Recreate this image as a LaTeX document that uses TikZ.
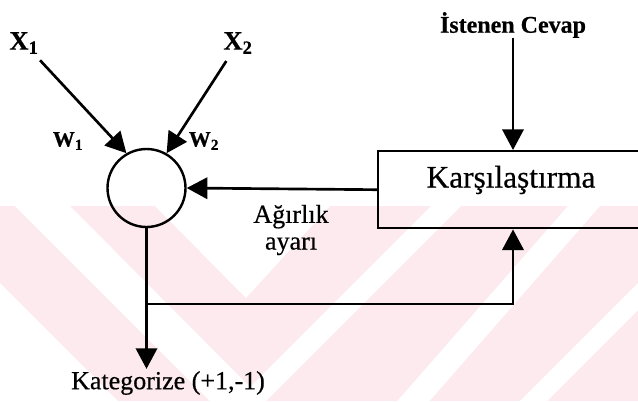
\documentclass[tikz,border=0pt]{standalone}
\usepackage{fontspec}
\setmainfont{Liberation Serif}[FakeBold=0.5]
\usetikzlibrary{arrows.meta}

\definecolor{bandpink}{RGB}{252,234,238}

\tikzset{
  arr/.style={line width=2pt, -{Triangle[length=15.5pt,width=16pt]}},
  neuron/.style={draw, circle, line width=1.8pt, minimum size=58.5pt, inner sep=0pt},
  cmpbox/.style={draw, rectangle, line width=1.8pt, minimum width=242pt, minimum height=57.75pt, inner sep=0pt},
  inlbl/.style={font=\bfseries\fontsize{20}{24}\selectfont, inner sep=1pt},
  wlbl/.style={font=\bfseries\fontsize{16.5}{19}\selectfont, inner sep=1pt},
  txt/.style={font=\fontsize{19.5}{19.5}\selectfont, inner sep=1.5pt}
}

\begin{document}
\begin{tikzpicture}[x=0.75pt,y=0.75pt,yscale=-1,xscale=1]
    \clip (0,0) rectangle (638,401); %diagram is 638 wide, 401 high

    %Shape: pink band in the lower half
    \fill [bandpink] (0,206) rectangle (638,401) ;
    %Shape: white chevrons cut out of the band
    \fill [white] (155,206) -- (246,298) -- (330,206) -- cycle ;
    \fill [white] (15,206) -- (238,429) -- (461,206) -- (431,206) -- (250,387) -- (70,206) -- cycle ;
    \fill [white] (-77,206) -- (267,550) -- (568,206) -- (600,206) -- (183,683) -- (-300,206) -- cycle ;
    \fill [white] (715,206) -- (515,406) -- (542,406) -- (742,206) -- cycle ;

    %Shape: Circle
    \node [neuron] (sum) at (146.5,188) {};
    %Shape: Rectangle
    \node [cmpbox, anchor=north west] (cmp) at (377,150) {};

    % Text Node
    \node [inlbl] (x1) at (24,43) {X\textsubscript{1}};
    % Text Node
    \node [inlbl] (x2) at (238,43) {X\textsubscript{2}};
    % Text Node
    \node [wlbl] (w1) at (68,141) {W\textsubscript{1}};
    % Text Node
    \node [wlbl] (w2) at (204,141) {W\textsubscript{2}};
    % Text Node
    \node [font=\bfseries\fontsize{18}{20}\selectfont, inner sep=0pt] (goal) at (513,25) {İstenen Cevap};
    % Text Node
    \node [font=\fontsize{23.5}{26}\selectfont, inner sep=0pt] (cmptxt) at (511,180) {Karşılaştırma};
    % Text Node
    \node [txt, font=\fontsize{19.5}{20}\selectfont, align=center] (adj) at (291,230) {Ağırlık\\ayarı};
    % Text Node
    \node [txt] (out) at (168,383) {Kategorize (+1,-1)};
    \coordinate (tap) at (146.5,304);

    %Straight Lines
    \draw [arr, shorten <=5pt] (x1) -- (sum.120) ;
    \draw [arr, shorten <=5pt] (x2) -- (sum.60) ;
    \draw [arr] (goal) -- (goal |- cmp.north) ;
    \draw [arr] (cmp.west) -- (sum.east) ;
    \draw [arr] (sum) -- (sum |- out.north) ;
    \draw [arr] (tap) -| (goal |- cmp.south) ;

\end{tikzpicture}
\end{document}
